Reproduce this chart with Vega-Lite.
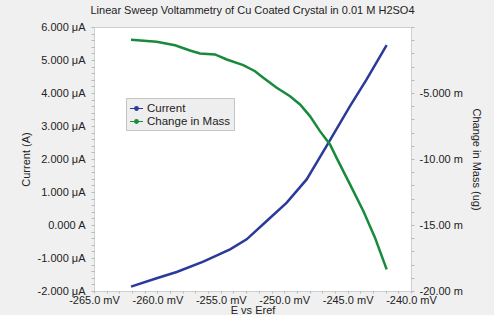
{
  "$schema": "https://vega.github.io/schema/vega-lite/v6.json",
  "autosize": {"type": "none"},
  "width": 317,
  "height": 264,
  "padding": {"left": 94, "top": 27, "right": 83, "bottom": 24},
  "background": "#f0f0f0",
  "title": {
    "text": "Linear Sweep Voltammetry of Cu Coated Crystal in 0.01 M H2SO4",
    "font": "Liberation Sans",
    "fontSize": 11,
    "fontWeight": "normal",
    "color": "#222222",
    "offset": 5,
    "anchor": "middle"
  },
  "config": {
    "view": {"stroke": "#cfcfcf", "fill": "#ffffff"},
    "axis": {
      "grid": false,
      "domain": false,
      "tickColor": "#b8b8b8",
      "labelColor": "#222222",
      "titleColor": "#222222",
      "labelFont": "Liberation Sans",
      "titleFont": "Liberation Sans",
      "labelFontSize": 11,
      "titleFontSize": 11,
      "titleFontWeight": "normal",
      "labelOverlap": false,
      "labelBound": false,
      "labelFlush": false
    }
  },
  "datasets": {
    "current": [
      {"E": -262.08, "current": -1.867},
      {"E": -260.06, "current": -1.615},
      {"E": -258.48, "current": -1.425},
      {"E": -256.38, "current": -1.11},
      {"E": -254.27, "current": -0.737},
      {"E": -252.96, "current": -0.435},
      {"E": -251.38, "current": 0.12},
      {"E": -249.8, "current": 0.677},
      {"E": -248.23, "current": 1.382},
      {"E": -246.7, "current": 2.37},
      {"E": -244.81, "current": 3.602},
      {"E": -243.5, "current": 4.41},
      {"E": -241.92, "current": 5.449}
    ],
    "mass": [
      {"E": -262.08, "mass": -0.97},
      {"E": -260.06, "mass": -1.12},
      {"E": -258.61, "mass": -1.38},
      {"E": -257.43, "mass": -1.78},
      {"E": -256.64, "mass": -2.01},
      {"E": -255.46, "mass": -2.08},
      {"E": -254.53, "mass": -2.46},
      {"E": -253.23, "mass": -2.89},
      {"E": -252.3, "mass": -3.35},
      {"E": -251.65, "mass": -3.85},
      {"E": -250.59, "mass": -4.6},
      {"E": -249.54, "mass": -5.24},
      {"E": -248.75, "mass": -5.87},
      {"E": -247.97, "mass": -6.75},
      {"E": -247.18, "mass": -7.89},
      {"E": -246.39, "mass": -8.9},
      {"E": -245.81, "mass": -10.03},
      {"E": -244.81, "mass": -11.92},
      {"E": -243.76, "mass": -13.94},
      {"E": -242.84, "mass": -15.96},
      {"E": -241.92, "mass": -18.36}
    ]
  },
  "layer": [
    {
      "data": {"name": "current"},
      "mark": {"type": "line", "strokeWidth": 2.5},
      "encoding": {
        "x": {
          "field": "E", "type": "quantitative",
          "scale": {"domain": [-265, -240], "nice": false, "zero": false},
          "axis": {
            "title": "E vs Eref",
            "values": [-265,-264,-263,-262,-261,-260,-259,-258,-257,-256,-255,-254,-253,-252,-251,-250,-249,-248,-247,-246,-245,-244,-243,-242,-241,-240],
            "labelExpr": "(round(datum.value) % 5 == 0) ? ('-' + format(abs(datum.value), '.1f') + ' mV') : ''",
            "labelOverlap": false,
            "tickSize": 2,
            "labelPadding": 1,
            "titlePadding": -1
          }
        },
        "y": {
          "field": "current", "type": "quantitative",
          "scale": {"domain": [-2, 6], "nice": false, "zero": false},
          "axis": {
            "title": "Current (A)",
            "orient": "left",
            "values": [-2,-1.8,-1.6,-1.4,-1.2,-1,-0.8,-0.6,-0.4,-0.2,0,0.2,0.4,0.6,0.8,1,1.2,1.4,1.6,1.8,2,2.2,2.4,2.6,2.8,3,3.2,3.4,3.6,3.8,4,4.2,4.4,4.6,4.8,5,5.2,5.4,5.6,5.8,6],
            "labelExpr": "abs(datum.value - round(datum.value)) > 0.01 ? '' : (abs(datum.value) < 0.01 ? '0.000 A' : (datum.value < 0 ? '-' : '') + format(abs(datum.value), '.3f') + ' μA')",
            "labelOverlap": false,
            "tickSize": 3,
            "labelPadding": 6,
            "titlePadding": 6
          }
        },
        "color": {
          "datum": "Current",
          "type": "nominal",
          "scale": {"domain": ["Current", "Change in Mass"], "range": ["#2b3a9a", "#178a3c"]},
          "legend": {
            "title": null,
            "orient": "none",
            "legendX": 32,
            "legendY": 71,
            "fillColor": "#eeeeee",
            "strokeColor": "#c4c4c4",
            "padding": 3,
            "labelFont": "Liberation Sans",
            "labelFontSize": 11.5,
            "labelColor": "#222222",
            "symbolType": "M -1 0 L 1 0 M 0.28 0 A 0.28 0.28 0 1 1 -0.28 0 A 0.28 0.28 0 1 1 0.28 0 Z",
            "symbolSize": 169,
            "symbolStrokeWidth": 1.2,
            "rowPadding": 0,
            "labelOffset": 3,
            "encode": {"symbols": {"update": {"fill": {"scale": "color", "field": "value"}}}}
          }
        }
      }
    },
    {
      "data": {"name": "mass"},
      "mark": {"type": "line", "strokeWidth": 2.5},
      "encoding": {
        "x": {
          "field": "E", "type": "quantitative",
          "scale": {"domain": [-265, -240], "nice": false, "zero": false},
          "axis": {
            "title": "E vs Eref",
            "values": [-265,-264,-263,-262,-261,-260,-259,-258,-257,-256,-255,-254,-253,-252,-251,-250,-249,-248,-247,-246,-245,-244,-243,-242,-241,-240],
            "labelExpr": "(round(datum.value) % 5 == 0) ? ('-' + format(abs(datum.value), '.1f') + ' mV') : ''",
            "labelOverlap": false,
            "tickSize": 2,
            "labelPadding": 1,
            "titlePadding": -1
          }
        },
        "y": {
          "field": "mass", "type": "quantitative",
          "scale": {"domain": [-20, 0], "nice": false, "zero": false},
          "axis": {
            "title": "Change in Mass (ug)",
            "orient": "right",
            "titleAngle": 90,
            "values": [0,-1,-2,-3,-4,-5,-6,-7,-8,-9,-10,-11,-12,-13,-14,-15,-16,-17,-18,-19,-20],
            "labelExpr": "(datum.value % 5 != 0 || datum.value == 0) ? '' : '-' + format(abs(datum.value), '.4r') + ' m'",
            "labelOverlap": false,
            "tickSize": 3,
            "labelPadding": 5,
            "titlePadding": 8
          }
        },
        "color": {"datum": "Change in Mass", "type": "nominal"}
      }
    }
  ],
  "resolve": {"scale": {"y": "independent"}}
}
